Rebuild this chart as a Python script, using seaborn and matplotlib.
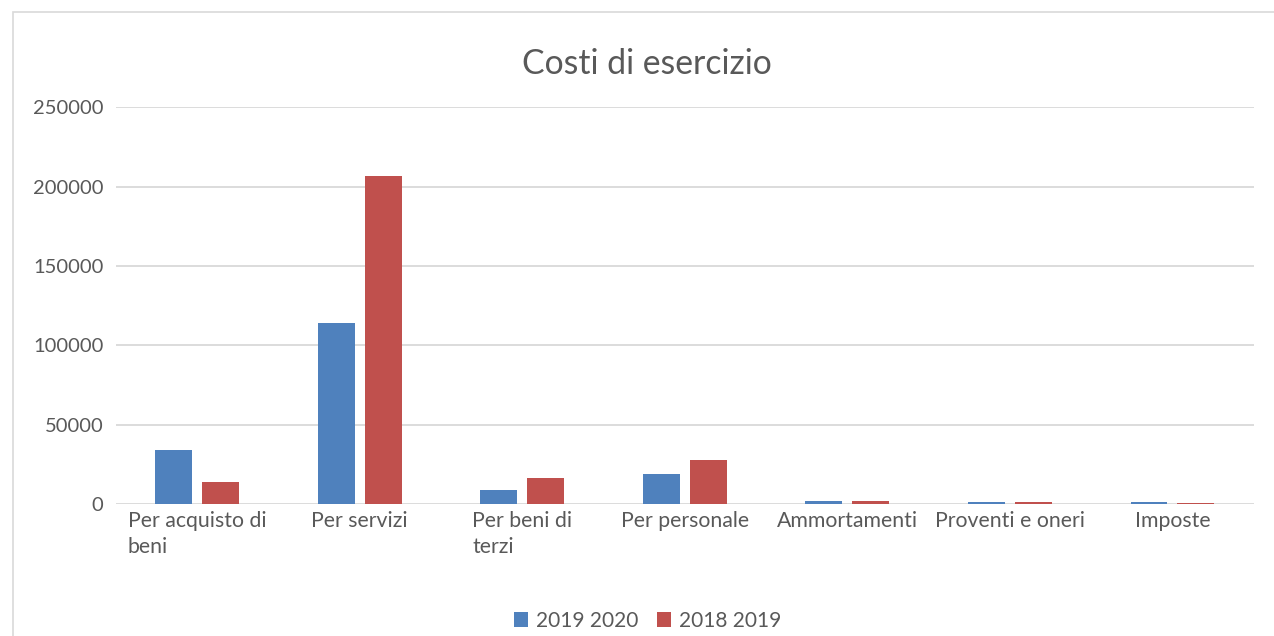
"""Costi di esercizio: grouped bar chart, Excel-style."""

import pandas as pd
import matplotlib
matplotlib.use('Agg')
import matplotlib.pyplot as plt
from matplotlib.patches import Rectangle
import seaborn as sns

# ── Data ──────────────────────────────────────────────────────────────────────
categories = ["Per acquisto di\nbeni", "Per servizi", "Per beni di\nterzi", "Per personale",
              "Ammortamenti", "Proventi e oneri", "Imposte"]
series_names = ["2019 2020", "2018 2019"]
values_2019_2020 = [34000, 114000, 8800, 18900, 2100, 1300, 1300]
values_2018_2019 = [13900, 206500, 16400, 27700, 2100, 1200, 500]
y_ticks = [0, 50000, 100000, 150000, 200000, 250000]

colors = {"2019 2020": "#4F81BD", "2018 2019": "#C0504D"}
text_color = "#595959"
grid_color = "#D9D9D9"

df = pd.DataFrame({
    "categoria": categories * 2,
    "valore": values_2019_2020 + values_2018_2019,
    "serie": [series_names[0]] * len(categories) + [series_names[1]] * len(categories),
})

# ── Plot ──────────────────────────────────────────────────────────────────────
sns.set_style("white")
plt.rcParams['font.family'] = ['Lato', 'DejaVu Sans']

fig = plt.figure(figsize=(12.74, 6.36), dpi=100)
ax = fig.add_axes([0.091, 0.2075, 0.893, 0.624])

sns.barplot(data=df, x="categoria", y="valore", hue="serie", hue_order=series_names,
            palette=colors, width=0.575, gap=0.21, saturation=1, linewidth=0, ax=ax)

ax.set_ylim(0, 250000)
ax.set_xlim(-0.5, len(categories) - 0.5)
ax.set_yticks(y_ticks)
ax.set_yticklabels([str(t) for t in y_ticks])
ax.yaxis.grid(True, color=grid_color, linewidth=1.3)
ax.set_axisbelow(True)
for s in ax.spines.values():
    s.set_visible(False)
ax.tick_params(axis='y', length=0, labelsize=14.5, labelcolor=text_color, pad=9)
ax.tick_params(axis='x', length=0, labelsize=15.3, labelcolor=text_color, pad=5)
for lbl in ax.get_xticklabels():
    lbl.set_multialignment('left')
    lbl.set_linespacing(1.4)
ax.set_xlabel("")
ax.set_ylabel("")

fig.text(0.508, 0.9, "Costi di esercizio", ha='center', va='center',
         fontsize=24.3, color=text_color)

handles, labels = ax.get_legend_handles_labels()
ax.legend_.remove()
fig.legend(handles, labels, loc='center', bbox_to_anchor=(0.508, 0.024), ncol=2,
           frameon=False, fontsize=15, labelcolor=text_color, handlelength=0.7,
           handleheight=0.7, handletextpad=0.35, columnspacing=0.9)

# chart area border (left and top edges visible)
fig.patches.append(Rectangle((13 / 1274, -0.1), 1.2, 1.1 - 12 / 636, transform=fig.transFigure,
                             fill=False, edgecolor="#D9D9D9", linewidth=1.2))

fig.savefig("out.png", dpi=100)
plt.close(fig)
